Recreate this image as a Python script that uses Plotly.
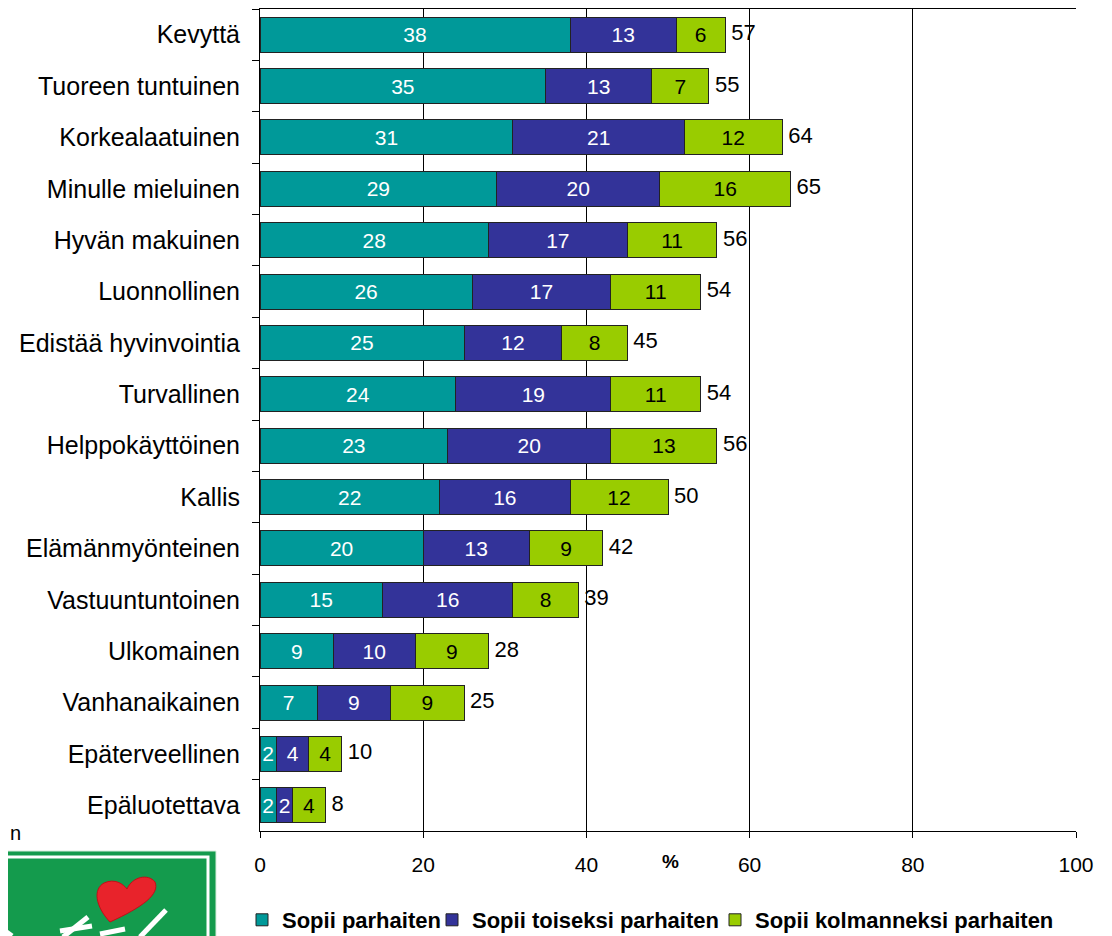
import plotly.graph_objects as go

categories = ["Kevyttä", "Tuoreen tuntuinen", "Korkealaatuinen", "Minulle mieluinen",
              "Hyvän makuinen", "Luonnollinen", "Edistää hyvinvointia", "Turvallinen",
              "Helppokäyttöinen", "Kallis", "Elämänmyönteinen", "Vastuuntuntoinen",
              "Ulkomainen", "Vanhanaikainen", "Epäterveellinen", "Epäluotettava"]
first = [38, 35, 31, 29, 28, 26, 25, 24, 23, 22, 20, 15, 9, 7, 2, 2]
second = [13, 13, 21, 20, 17, 17, 12, 19, 20, 16, 13, 16, 10, 9, 4, 2]
third = [6, 7, 12, 16, 11, 11, 8, 11, 13, 12, 9, 8, 9, 9, 4, 4]
totals = [57, 55, 64, 65, 56, 54, 45, 54, 56, 50, 42, 39, 28, 25, 10, 8]
series_names = ["Sopii parhaiten", "Sopii toiseksi parhaiten", "Sopii kolmanneksi parhaiten"]
colors = ["#009999", "#333399", "#99CC00"]
text_colors = ["white", "white", "black"]
x_ticks = [0, 20, 40, 60, 80, 100]

W, H = 1112, 936
OFF = 8  # page body margin
# target plot area in window pixels
PX0, PX1, PY0, PY1 = 260, 1076, OFF + 1, 831
FONT = "Liberation Sans, Arial, sans-serif"


def px2x(px):
    return (px - PX0) / (PX1 - PX0)


def py2y(py):
    return (PY1 - py) / (PY1 - PY0)


fig = go.Figure()
legend_ids = ["legend", "legend2", "legend3"]
for vals, name, col, tcol, lg in zip([first, second, third], series_names, colors, text_colors, legend_ids):
    fig.add_trace(go.Bar(
        y=categories, x=vals, name=name, orientation="h",
        marker=dict(color=col, line=dict(color="#222222", width=1)),
        text=[str(v) for v in vals], textposition="inside", insidetextanchor="middle",
        textfont=dict(color=tcol, size=21, family=FONT),
        constraintext="none", legend=lg, hoverinfo="skip",
    ))

fig.add_trace(go.Scatter(
    y=categories, x=totals, mode="text", text=[" " + str(t) for t in totals],
    textposition="middle right", textfont=dict(size=22, color="black", family=FONT),
    showlegend=False, cliponaxis=False, hoverinfo="skip",
))

legend_common = dict(orientation="h", yanchor="middle", y=py2y(920), xanchor="left",
                     font=dict(size=22, family=FONT, color="black", weight="bold"),
                     bgcolor="rgba(0,0,0,0)", itemwidth=30, traceorder="normal")
text_starts = [284, 474, 757]

shapes = []
# logo (green box with heart)
shapes.append(dict(type="rect", xref="paper", yref="paper", x0=px2x(-5), x1=px2x(216), y0=py2y(851), y1=py2y(950),
                   fillcolor="#149b4d", line=dict(color="#d8eedd", width=1), layer="above"))
shapes.append(dict(type="rect", xref="paper", yref="paper", x0=px2x(-10), x1=px2x(208), y0=py2y(857), y1=py2y(950),
                   fillcolor="rgba(0,0,0,0)", line=dict(color="white", width=3), layer="above"))
pts = [(110, 922), (95, 906), (93, 889), (104, 883), (115, 878), (123, 884), (127, 889),
       (132, 877), (148, 873), (155, 882), (160, 894), (143, 907), (110, 922)]
path = "M {} {}".format(px2x(pts[0][0]), py2y(pts[0][1]))
for k in range(1, len(pts) - 1, 3):
    p1, p2, p3 = pts[k], pts[k + 1], pts[k + 2]
    path += " C {} {}, {} {}, {} {}".format(px2x(p1[0]), py2y(p1[1]), px2x(p2[0]), py2y(p2[1]), px2x(p3[0]), py2y(p3[1]))
path += " Z"
shapes.append(dict(type="path", xref="paper", yref="paper", path=path, fillcolor="#e8232b",
                   line=dict(color="#c01018", width=1), layer="above"))
# white script strokes of the logo
for (a, b, c, d) in [(0, 927, 12, 936), (63, 937, 88, 917), (60, 931, 92, 926),
                     (140, 937, 166, 910), (100, 934, 125, 929)]:
    shapes.append(dict(type="line", xref="paper", yref="paper", x0=px2x(a), y0=py2y(b), x1=px2x(c), y1=py2y(d),
                       line=dict(color="white", width=5), layer="above"))

annotations = [
    dict(text="<b>%</b>", x=px2x(670), y=py2y(862), xref="paper", yref="paper", showarrow=False,
         xanchor="center", yanchor="middle", font=dict(size=19, family=FONT, color="black")),
    dict(text="n", x=px2x(8), y=py2y(833), xref="paper", yref="paper", showarrow=False,
         xanchor="left", yanchor="middle", font=dict(size=20, family=FONT, color="black")),
]

layout_kwargs = {}
for lg, ts in zip(legend_ids, text_starts):
    d = dict(legend_common)
    d["x"] = px2x(ts - 42)
    layout_kwargs[lg] = d

fig.update_layout(
    width=W, height=H, barmode="stack", bargap=0.32,
    margin=dict(l=PX0 - OFF, r=W + OFF - PX1, t=PY0 - OFF, b=H + OFF - PY1, pad=0),
    plot_bgcolor="white", paper_bgcolor="white",
    font=dict(family=FONT, color="black"),
    uniformtext=dict(minsize=21, mode="show"),
    xaxis=dict(range=[0, 100], tickvals=x_ticks, ticktext=[str(v) for v in x_ticks],
               showgrid=True, gridcolor="black", gridwidth=1, zeroline=False,
               showline=True, linecolor="black", linewidth=1, mirror=True,
               ticks="outside", ticklen=6, tickcolor="black",
               tickfont=dict(size=21, family=FONT, color="black"), ticklabelstandoff=9),
    yaxis=dict(range=[len(categories) - 0.5, -0.5], autorange=False, showgrid=False, zeroline=False,
               showline=True, linecolor="black", linewidth=1,
               ticks="outside", ticklen=7, tickcolor="black", tickson="boundaries",
               tickfont=dict(size=25, family=FONT, color="black"), ticklabelstandoff=14),
    shapes=shapes, annotations=annotations,
    **layout_kwargs,
)

fig.write_html("out.html")
